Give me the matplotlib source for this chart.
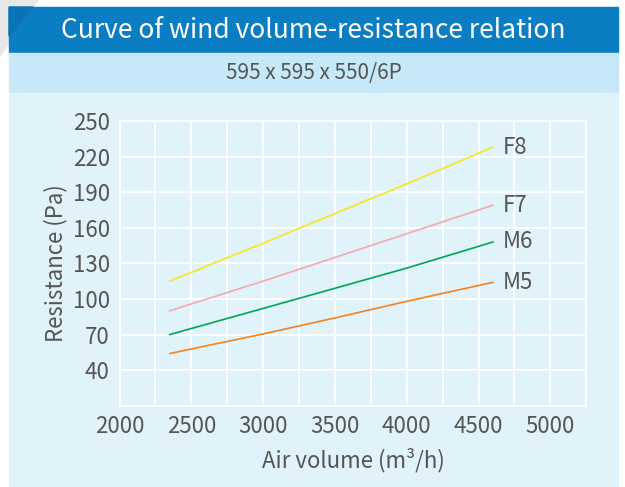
import matplotlib.pyplot as plt
from matplotlib.patches import Rectangle, Polygon

plt.rcParams['font.family'] = ['Noto Sans CJK SC', 'DejaVu Sans']

# Resistance curves for the 595 x 595 x 550/6P bag filter
air_volume = [2350, 3000, 3500, 4000, 4600]
f8 = [115, 147, 172, 197, 228]
f7 = [90, 115, 135, 155, 179]
m6 = [70, 92, 109, 126, 148]
m5 = [54, 70.5, 84, 98, 114]

series = [('F8', f8, '#f7e81c'), ('F7', f7, '#f5aaa9'),
          ('M6', m6, '#00a650'), ('M5', m5, '#f5821f')]

x_ticks = [2000, 2500, 3000, 3500, 4000, 4500, 5000]
y_ticks = [40, 70, 100, 130, 160, 190, 220, 250]

W, H = 625, 487
fig = plt.figure(figsize=(W / 100, H / 100), dpi=100)
fig.patch.set_facecolor('white')

def box(x0, y0, x1, y1, color):
    # pixel box measured from the top-left corner
    fig.patches.append(Rectangle((x0 / W, 1 - y1 / H), (x1 - x0) / W, (y1 - y0) / H,
                                 transform=fig.transFigure, color=color, zorder=0))

# corner shadow
fig.patches.append(Polygon([(0, 1), (38 / W, 1), (0, 1 - 56 / H)], closed=True,
                           transform=fig.transFigure, color='#e8e8e8', zorder=-1))
box(9, 7, 618, 52, '#0b7dc3')
box(9, 53, 618, 91.5, '#c6e8f8')
box(9, 93, 618, 487, '#e0f2fa')
fig.patches.append(Polygon([(9 / W, 1 - 7 / H), (33 / W, 1 - 7 / H), (9 / W, 1 - 36 / H)],
                           closed=True, transform=fig.transFigure,
                           color='#0973b6', zorder=0.5))

fig.text(313.5 / W, 1 - 30 / H, 'Curve of wind volume-resistance relation',
         color='white', fontsize=19, ha='center', va='center')
fig.text(313.5 / W, 1 - 72.5 / H, '595 x 595 x 550/6P', color='#555555',
         fontsize=15, ha='center', va='center')

ax = fig.add_axes([119.5 / W, 1 - 405.7 / H, (586.3 - 119.5) / W, (405.7 - 121) / H])
ax.set_zorder(2)
ax.set_facecolor('#e0f2fa')
ax.set_xlim(2000, 5250)
ax.set_ylim(10, 250)

for name, vals, color in series:
    ax.plot(air_volume, vals, color=color, lw=1.2, zorder=3)
    ax.annotate(name, (air_volume[-1], vals[-1]), xytext=(7, 0),
                textcoords='offset points', va='center', ha='left',
                fontsize=16, color='#555555', annotation_clip=False)

# grid every 250 m3/h, labels every 500
ax.set_xticks(range(2000, 5251, 250))
ax.set_xticklabels([str(v) if v in x_ticks else '' for v in range(2000, 5251, 250)])
ax.set_yticks(range(10, 251, 30))
ax.set_yticklabels([str(v) if v in y_ticks else '' for v in range(10, 251, 30)])
ax.grid(True, color='white', lw=1.3, zorder=1)
ax.set_axisbelow(True)
for s in ax.spines.values():
    s.set_color('white')
    s.set_linewidth(1.3)
ax.tick_params(length=0, labelsize=16, labelcolor='#555555')
ax.tick_params(axis='x', pad=7)
ax.tick_params(axis='y', pad=7)

ax.set_xlabel('Air volume (m³/h)', fontsize=16, color='#555555', labelpad=7)
ax.set_ylabel('Resistance (Pa)', fontsize=16, color='#555555', labelpad=4)

fig.savefig('out.png', dpi=100)
